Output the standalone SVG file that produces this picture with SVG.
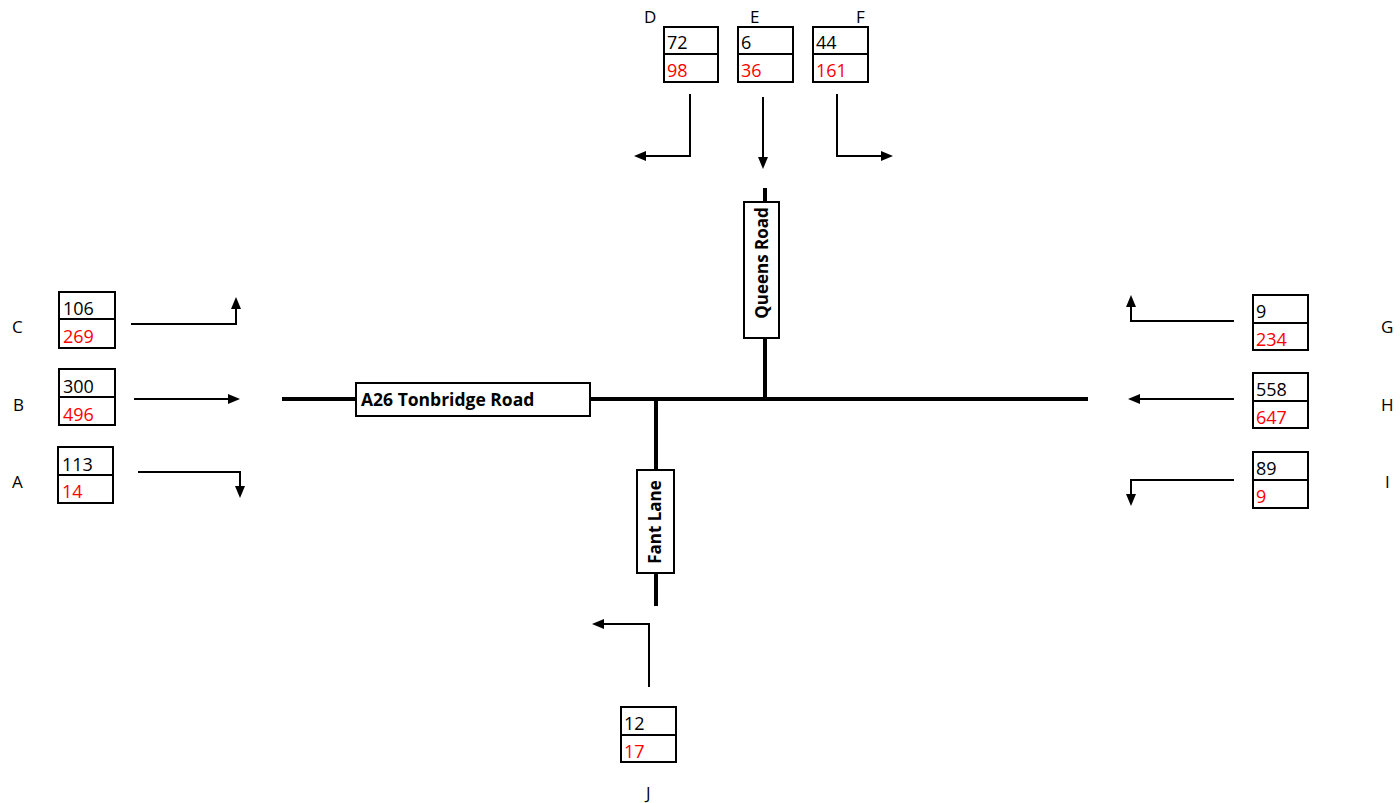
<svg xmlns="http://www.w3.org/2000/svg" width="1400" height="803" viewBox="0 0 1400 803">
<style>
text{font-family:"Open Sans","Liberation Sans",sans-serif;font-size:18px;fill:#000}
.r{fill:#ff0000}
.box{fill:#fff;stroke:#000;stroke-width:2}
.div{stroke:#000;stroke-width:2}
.road{stroke:#000;stroke-width:4;fill:none}
.arr{stroke:#000;stroke-width:2;fill:none;marker-end:url(#ah)}
.rn{font-weight:bold;font-size:17.5px}
.rv{font-size:17px}
.lbl{font-size:17px}
</style>
<defs>
<marker id="ah" viewBox="0 0 12 10" refX="1" refY="5" markerWidth="12" markerHeight="10" markerUnits="userSpaceOnUse" orient="auto"><path d="M0,0L12,5L0,10z" fill="#000"/></marker>
</defs>
<rect width="1400" height="803" fill="#fff"/>
<g id="roads">
<line class="road" x1="282" y1="399" x2="1088" y2="399"/>
<line class="road" x1="765" y1="188" x2="765" y2="399"/>
<line class="road" x1="656" y1="399" x2="656" y2="606"/>
</g>
<g id="road-a26"><rect class="box" x="356" y="383" width="234" height="33"/><text class="rn" x="361" y="406">A26 Tonbridge Road</text></g>
<g id="road-queens"><rect class="box" x="744" y="202" width="35" height="136"/><text class="rn rv" text-anchor="middle" transform="translate(768,263) rotate(-90)">Queens Road</text></g>
<g id="road-fant"><rect class="box" x="637" y="470" width="37" height="103"/><text class="rn rv" text-anchor="middle" transform="translate(661,522) rotate(-90)">Fant Lane</text></g>
<g id="connectors">
<path class="arr" d="M690,94V156H645"/>
<path class="arr" d="M763,97V158"/>
<path class="arr" d="M837,94V156H882"/>
<path class="arr" d="M131,324H236V308"/>
<path class="arr" d="M134,399H229"/>
<path class="arr" d="M138,472H240V487"/>
<path class="arr" d="M1234,321H1131V306"/>
<path class="arr" d="M1234,399H1139"/>
<path class="arr" d="M1234,480H1131V495"/>
<path class="arr" d="M649,687V624H603"/>
</g>
<g id="node-D"><text class="lbl" x="644" y="23">D</text><rect class="box" x="664" y="27" width="54" height="55"/><line class="div" x1="664" y1="54" x2="718" y2="54"/><text x="667" y="49">72</text><text class="r" x="667" y="77">98</text></g>
<g id="node-E"><text class="lbl" x="750" y="23">E</text><rect class="box" x="738" y="27" width="55" height="55"/><line class="div" x1="738" y1="54" x2="793" y2="54"/><text x="741" y="49">6</text><text class="r" x="741" y="77">36</text></g>
<g id="node-F"><text class="lbl" x="856" y="23">F</text><rect class="box" x="813" y="27" width="55" height="55"/><line class="div" x1="813" y1="54" x2="868" y2="54"/><text x="816" y="49">44</text><text class="r" x="816" y="77">161</text></g>
<g id="node-C"><text class="lbl" x="12" y="333">C</text><rect class="box" x="59" y="292" width="56" height="56"/><line class="div" x1="59" y1="319" x2="115" y2="319"/><text x="63" y="315">106</text><text class="r" x="63" y="343">269</text></g>
<g id="node-B"><text class="lbl" x="13" y="411">B</text><rect class="box" x="59" y="369" width="56" height="56"/><line class="div" x1="59" y1="397" x2="115" y2="397"/><text x="63" y="393">300</text><text class="r" x="63" y="421">496</text></g>
<g id="node-A"><text class="lbl" x="12" y="488">A</text><rect class="box" x="58" y="447" width="55" height="56"/><line class="div" x1="58" y1="475" x2="113" y2="475"/><text x="62" y="471">113</text><text class="r" x="62" y="498">14</text></g>
<g id="node-G"><text class="lbl" x="1381" y="333">G</text><rect class="box" x="1253" y="295" width="55" height="55"/><line class="div" x1="1253" y1="323" x2="1308" y2="323"/><text x="1256" y="318">9</text><text class="r" x="1256" y="346">234</text></g>
<g id="node-H"><text class="lbl" x="1381" y="411">H</text><rect class="box" x="1253" y="373" width="55" height="55"/><line class="div" x1="1253" y1="401" x2="1308" y2="401"/><text x="1256" y="396">558</text><text class="r" x="1256" y="424">647</text></g>
<g id="node-I"><text class="lbl" x="1385" y="488">I</text><rect class="box" x="1253" y="452" width="55" height="56"/><line class="div" x1="1253" y1="480" x2="1308" y2="480"/><text x="1256" y="475">89</text><text class="r" x="1256" y="503">9</text></g>
<g id="node-J"><text class="lbl" x="646" y="799">J</text><rect class="box" x="621" y="707" width="55" height="55"/><line class="div" x1="621" y1="735" x2="676" y2="735"/><text x="624" y="730">12</text><text class="r" x="624" y="758">17</text></g>
</svg>
